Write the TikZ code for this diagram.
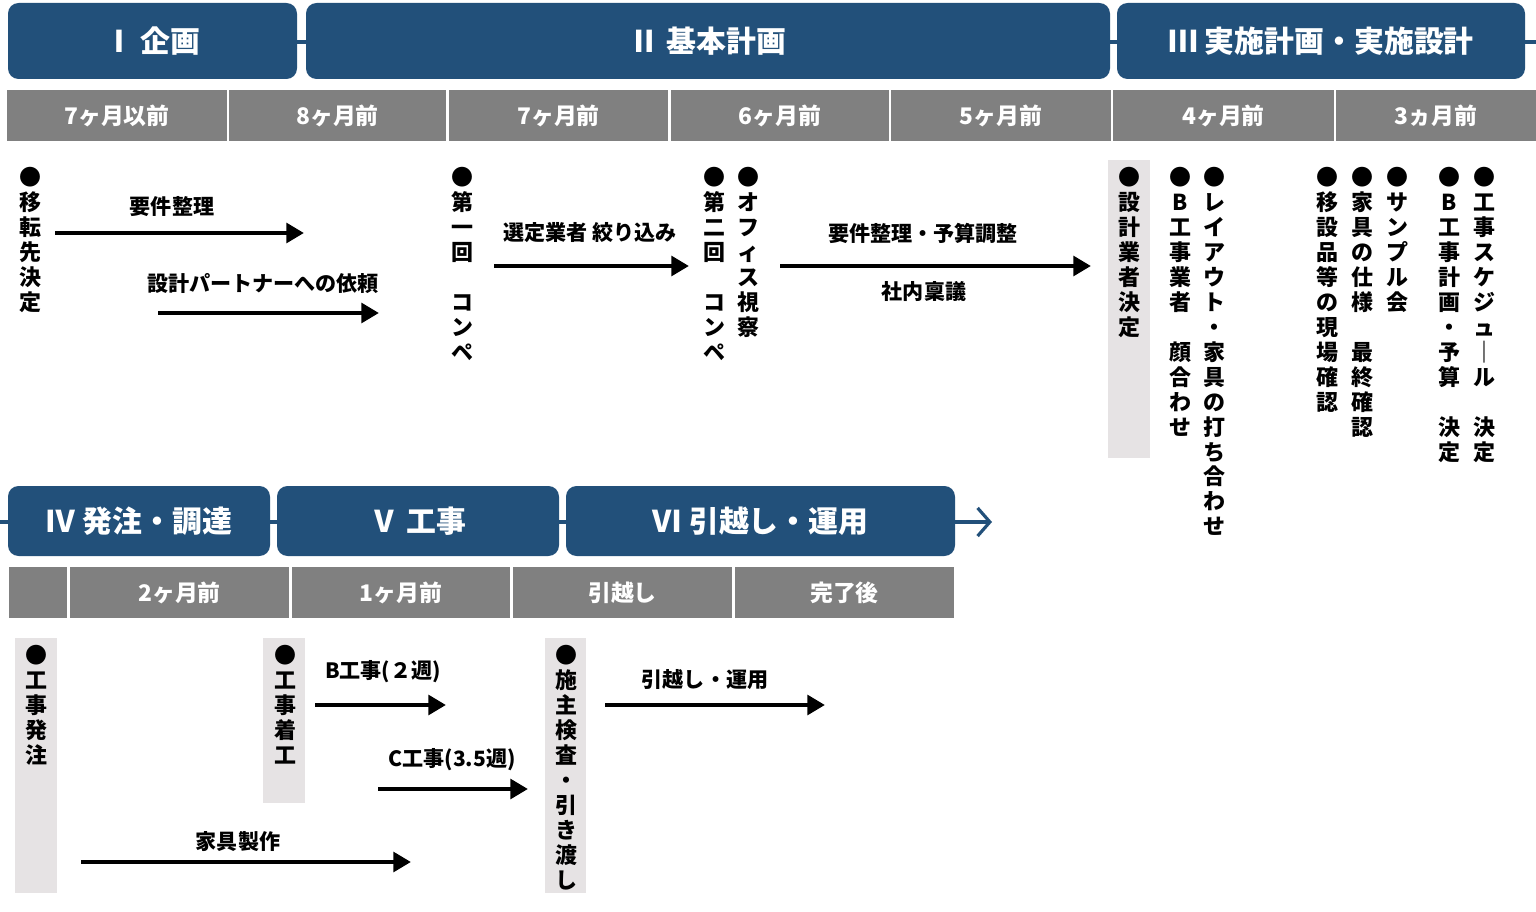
\documentclass[tikz,border=0pt]{standalone}
\usepackage{fontspec}
\setmainfont{Noto Sans CJK JP}
\usetikzlibrary{arrows.meta}
\definecolor{navy}{HTML}{22507A}
\definecolor{monthgray}{HTML}{808080}
\definecolor{holdgray}{HTML}{E6E3E4}

\begin{document}
\begin{tikzpicture}[x=0.02cm, y=-0.02cm,
        phase/.style={fill=navy, rounded corners=6pt, text=white, inner sep=0pt, font=\fontsize{17}{20}\selectfont\bfseries},
        month/.style={fill=monthgray, text=white, inner sep=0pt, minimum height=51*0.02cm, font=\fontsize{13}{15}\selectfont\bfseries},
        hold/.style={fill=holdgray, inner sep=0pt},
        vlabel/.style={anchor=north, align=center, inner sep=0pt, font=\fontsize{12.5}{14.2}\selectfont\bfseries},
        note/.style={inner sep=1pt, font=\fontsize{12}{14}\selectfont\bfseries},
        flow/.style={-{Triangle[length=10pt, width=11pt]}, line width=2.8pt},
        link/.style={navy, line width=1.8pt}
        ]
        \useasboundingbox (0,0) rectangle (1536,912);

        % Phase bars
        \draw [link] (297,42) -- (1536,42);
        \draw [link, -{Straight Barb[length=7pt, width=16pt]}] (0,522) -- (992,522);
        \node (ph1) [phase, minimum width=289*0.02cm, minimum height=76*0.02cm] at (152.5,41) {Ⅰ 企画};
        \node (ph2) [phase, minimum width=804*0.02cm, minimum height=76*0.02cm] at (708,41) {Ⅱ 基本計画};
        \node (ph3) [phase, minimum width=408*0.02cm, minimum height=76*0.02cm] at (1321,41) {Ⅲ 実施計画・実施設計};
        \node (ph4) [phase, minimum width=262*0.02cm, minimum height=70*0.02cm] at (139,521) {Ⅳ 発注・調達};
        \node (ph5) [phase, minimum width=282*0.02cm, minimum height=70*0.02cm] at (418,521) {Ⅴ 工事};
        \node (ph6) [phase, minimum width=389*0.02cm, minimum height=70*0.02cm] at (760.5,521) {Ⅵ 引越し・運用};

        % Months
        \node (m1) [month, minimum width=220*0.02cm] at (117,116) {7ヶ月以前};
        \node (m2) [month, minimum width=217*0.02cm] at (337.5,116) {8ヶ月前};
        \node (m3) [month, minimum width=219*0.02cm] at (558.5,116) {7ヶ月前};
        \node (m4) [month, minimum width=218*0.02cm] at (780,116) {6ヶ月前};
        \node (m5) [month, minimum width=220*0.02cm] at (1001,116) {5ヶ月前};
        \node (m6) [month, minimum width=221*0.02cm] at (1223.5,116) {4ヶ月前};
        \node (m7) [month, minimum width=200*0.02cm] at (1436,116) {3ヵ月前};
        \node (n0) [month, minimum width=58*0.02cm] at (38,592.5) {};
        \node (n1) [month, minimum width=219*0.02cm] at (179.5,592.5) {2ヶ月前};
        \node (n2) [month, minimum width=218*0.02cm] at (401,592.5) {1ヶ月前};
        \node (n3) [month, minimum width=219*0.02cm] at (622.5,592.5) {引越し};
        \node (n4) [month, minimum width=219*0.02cm] at (844.5,592.5) {完了後};

        % Highlight boxes
        \node (h1) [hold, minimum width=42*0.02cm, minimum height=298*0.02cm] at (1129,309) {};
        \node (h2) [hold, minimum width=42*0.02cm, minimum height=255*0.02cm] at (36,765.5) {};
        \node (h3) [hold, minimum width=42*0.02cm, minimum height=165*0.02cm] at (284,720.5) {};
        \node (h4) [hold, minimum width=41*0.02cm, minimum height=255*0.02cm] at (565.5,765.5) {};

        % Milestones (vertical)
        \node (v1) [vlabel] at (30,167) {●\\移\\転\\先\\決\\定};
        \node (v2) [vlabel] at (462,167) {●\\第\\一\\回\\　\\コ\\ン\\ペ};
        \node (v3) [vlabel] at (714,167) {●\\第\\二\\回\\　\\コ\\ン\\ペ};
        \node (v4) [vlabel] at (748,167) {●\\オ\\フ\\ィ\\ス\\視\\察};
        \node (v5) [vlabel] at (1129,167) {●\\設\\計\\業\\者\\決\\定};
        \node (v6) [vlabel] at (1180,167) {●\\B\\工\\事\\業\\者\\　\\顔\\合\\わ\\せ};
        \node (v7) [vlabel] at (1214,167) {●\\レ\\イ\\ア\\ウ\\ト\\・\\家\\具\\の\\打\\ち\\合\\わ\\せ};
        \node (v8) [vlabel] at (1327,167) {●\\移\\設\\品\\等\\の\\現\\場\\確\\認};
        \node (v9) [vlabel] at (1362,167) {●\\家\\具\\の\\仕\\様\\　\\最\\終\\確\\認};
        \node (v10) [vlabel] at (1397,167) {●\\サ\\ン\\プ\\ル\\会};
        \node (v11) [vlabel] at (1449,167) {●\\B\\工\\事\\計\\画\\・\\予\\算\\　\\決\\定};
        \node (v12) [vlabel] at (1484,167) {●\\工\\事\\ス\\ケ\\ジ\\ュ\\｜\\ル\\　\\決\\定};
        \node (w1) [vlabel] at (36,645) {●\\工\\事\\発\\注};
        \node (w2) [vlabel] at (285,645) {●\\工\\事\\着\\工};
        \node (w3) [vlabel] at (566,645) {●\\施\\主\\検\\査\\・\\引\\き\\渡\\し};

        % Tasks
        \node (t1) [note] at (172,207) {要件整理};
        \node (t2) [note] at (263,284) {設計パートナーへの依頼};
        \node (t3) [note] at (590,233) {選定業者 絞り込み};
        \node (t4) [note] at (923,233) {要件整理・予算調整};
        \node (t5) [note] at (924,292) {社内稟議};
        \node (t6) [note] at (383,672) {B工事(２週)};
        \node (t7) [note] at (452,760) {C工事(3.5週)};
        \node (t8) [note] at (238,842) {家具製作};
        \node (t9) [note] at (705,680) {引越し・運用};

        \coordinate (a1s) at (55,233);  \coordinate (a1e) at (304,233);
        \coordinate (a2s) at (158,313); \coordinate (a2e) at (379,313);
        \coordinate (a3s) at (494,266); \coordinate (a3e) at (689,266);
        \coordinate (a4s) at (780,266); \coordinate (a4e) at (1091,266);
        \coordinate (a5s) at (315,705); \coordinate (a5e) at (446,705);
        \coordinate (a6s) at (378,789); \coordinate (a6e) at (528,789);
        \coordinate (a7s) at (81,862);  \coordinate (a7e) at (411,862);
        \coordinate (a8s) at (605,705); \coordinate (a8e) at (825,705);

        % Arrows
        \draw [flow] (a1s) -- (a1e);
        \draw [flow] (a2s) -- (a2e);
        \draw [flow] (a3s) -- (a3e);
        \draw [flow] (a4s) -- (a4e);
        \draw [flow] (a5s) -- (a5e);
        \draw [flow] (a6s) -- (a6e);
        \draw [flow] (a7s) -- (a7e);
        \draw [flow] (a8s) -- (a8e);

    \end{tikzpicture}
\end{document}
